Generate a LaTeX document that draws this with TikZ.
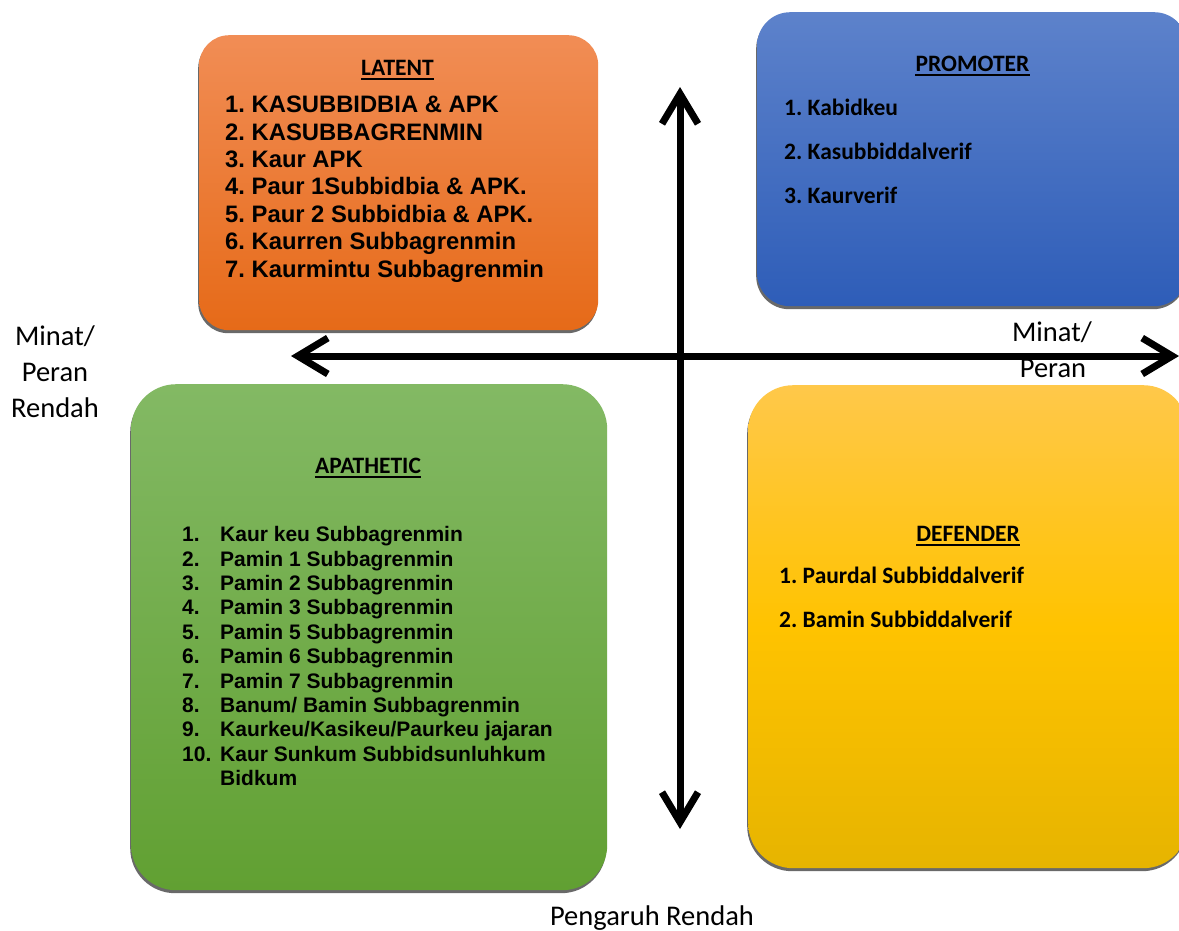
\documentclass[tikz,border=0pt]{standalone}
\usepackage{fontspec}
\setmainfont{Carlito}
\newfontfamily\arialfont{Liberation Sans}
\usetikzlibrary{arrows.meta,shadows}
\frenchspacing
\definecolor{orgtop}{HTML}{F18D55}
\definecolor{orgbot}{HTML}{E66A18}
\definecolor{blutop}{HTML}{5D82CB}
\definecolor{blubot}{HTML}{2E5DB8}
\definecolor{grntop}{HTML}{83B964}
\definecolor{grnbot}{HTML}{61A032}
\definecolor{yeltop}{HTML}{FFC84A}
\definecolor{yelmid}{HTML}{FFC300}
\definecolor{yelbot}{HTML}{E6B400}
\tikzset{
  quad/.style={rectangle, inner sep=0pt, anchor=north west,
    drop shadow={shadow xshift=-1pt, shadow yshift=-3pt, fill=black!65, opacity=0.9}},
  ttl/.style={inner sep=0pt, anchor=base, font=\fontsize{23.5}{28}\selectfont\bfseries},
  uline/.style={line width=1.8pt},
  arialitem/.style={inner sep=0pt, anchor=base west, font=\arialfont\bfseries\fontsize{23.8}{27.4}\selectfont},
  apaitem/.style={inner sep=0pt, anchor=base west, font=\arialfont\bfseries\fontsize{21}{24.4}\selectfont},
  calitem/.style={inner sep=0pt, anchor=base west, font=\fontsize{23.5}{28}\selectfont\bfseries},
  axislabel/.style={inner sep=0pt, anchor=base, font=\fontsize{28.5}{36}\selectfont},
  axis/.style={line width=7pt, {Straight Barb[length=30pt,width=36pt]}-{Straight Barb[length=30pt,width=36pt]}}
}
\begin{document}
\begin{tikzpicture}[x=1pt,y=-1pt]
\clip (0,0) rectangle (1179,930);
\fill[white] (0,0) rectangle (1179,930);

% boxes
\node[quad, minimum width=399pt, minimum height=295pt, rounded corners=30pt,
  top color=orgtop, bottom color=orgbot] (latent) at (199,35) {};
\node[quad, minimum width=430pt, minimum height=294pt, rounded corners=33pt,
  top color=blutop, bottom color=blubot] (promoter) at (757,12) {};
\node[quad, minimum width=476pt, minimum height=506pt, rounded corners=45pt,
  top color=grntop, bottom color=grnbot] (apathetic) at (131,384) {};
\node[quad, minimum width=440pt, minimum height=483pt, rounded corners=45pt,
  top color=yeltop, bottom color=yelbot, middle color=yelmid] (defender) at (748,385) {};

% axes
\coordinate (vt) at (680,87);
\coordinate (vb) at (680,829);
\coordinate (hl) at (291,356);
\coordinate (hr) at (1179,356);
\draw[axis] (vb) -- (vt);
\draw[axis] (hl) -- (hr);

% LATENT
\node[ttl] (tlat) at (397.5,75) {LATENT};
\draw[uline] ([yshift=-4pt]tlat.base west) -- ([yshift=-4pt]tlat.base east);
\foreach \t [count=\i] in {1. KASUBBIDBIA \& APK, 2. KASUBBAGRENMIN, 3. Kaur APK,
  4. Paur 1Subbidbia \& APK., 5. Paur 2 Subbidbia \& APK., 6. Kaurren Subbagrenmin,
  7. Kaurmintu Subbagrenmin}
  \node[arialitem] (lat\i) at (225,{112.7+27.4*(\i-1)}) {\t};

% PROMOTER
\node[ttl] (tpro) at (972.5,71) {PROMOTER};
\draw[uline] ([yshift=-4pt]tpro.base west) -- ([yshift=-4pt]tpro.base east);
\foreach \t [count=\i] in {1. Kabidkeu, 2. Kasubbiddalverif, 3. Kaurverif}
  \node[calitem] (pro\i) at (784,{115+44*(\i-1)}) {\t};

% DEFENDER
\node[ttl] (tdef) at (968,541) {DEFENDER};
\draw[uline] ([yshift=-4pt]tdef.base west) -- ([yshift=-4pt]tdef.base east);
\foreach \t [count=\i] in {1. Paurdal Subbiddalverif, 2. Bamin Subbiddalverif}
  \node[calitem] (def\i) at (779,{583+44*(\i-1)}) {\t};

% APATHETIC
\node[ttl] (tapa) at (368,473) {APATHETIC};
\draw[uline] ([yshift=-4pt]tapa.base west) -- ([yshift=-4pt]tapa.base east);
\foreach \t [count=\i] in {Kaur keu Subbagrenmin, Pamin 1 Subbagrenmin, Pamin 2 Subbagrenmin,
  Pamin 3 Subbagrenmin, Pamin 5 Subbagrenmin, Pamin 6 Subbagrenmin, Pamin 7 Subbagrenmin,
  Banum/ Bamin Subbagrenmin, Kaurkeu/Kasikeu/Paurkeu jajaran, Kaur Sunkum Subbidsunluhkum}
{
  \node[apaitem] (apn\i) at (182,{541.7+24.4*(\i-1)}) {\i.};
  \node[apaitem] (apt\i) at (220,{541.7+24.4*(\i-1)}) {\t};
}
\node[apaitem] (apt11) at (220,785.7) {Bidkum};

% axis labels
\node[axislabel] (lmin) at (55,345) {Minat/};
\node[axislabel] (lper) at (55,381.5) {Peran};
\node[axislabel] (lren) at (55,417.5) {Rendah};
\node[axislabel] (rmin) at (1052,341.7) {Minat/};
\node[axislabel] (rper) at (1053,377.7) {Peran};
\node[axislabel] (bpen) at (652,925) {Pengaruh Rendah};
\end{tikzpicture}
\end{document}
